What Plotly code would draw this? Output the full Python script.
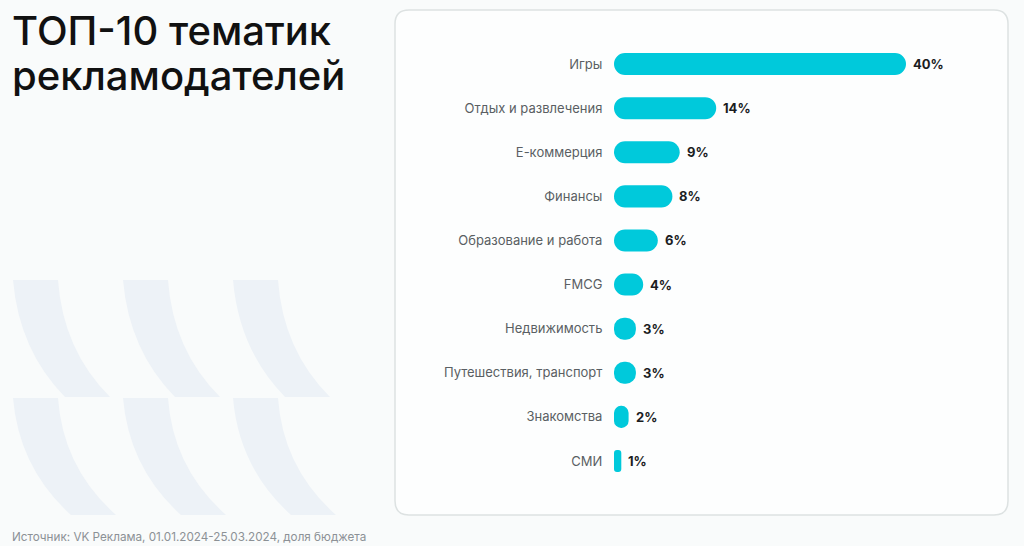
import plotly.graph_objects as go

categories = ["Игры", "Отдых и развлечения", "Е-коммерция", "Финансы", "Образование и работа",
              "FMCG", "Недвижимость", "Путешествия, транспорт", "Знакомства", "СМИ"]
values = [40, 14, 9, 8, 6, 4, 3, 3, 2, 1]
value_labels = ["40%", "14%", "9%", "8%", "6%", "4%", "3%", "3%", "2%", "1%"]

title_lines = ["ТОП-10 тематик", "рекламодателей"]
source_text = "Источник: VK Реклама, 01.01.2024-25.03.2024, доля бюджета"

W, H = 1024, 546
BAR_COLOR = "#00C9DB"

fig = go.Figure()
fig.add_trace(go.Bar(
    x=values, base=[0] * len(values), y=categories, orientation="h",
    marker=dict(color=BAR_COLOR, cornerradius="50%", line=dict(width=0)),
    width=0.5, hoverinfo="skip",
))

annotations = []
for c, v, t in zip(categories, values, value_labels):
    annotations.append(dict(x=v, y=c, xref="x", yref="y", text=t, showarrow=False,
                            xanchor="left", xshift=5,
                            font=dict(family="Inter, sans-serif", size=13, color="#1b1d1f", weight=700)))

def px(x):
    return x / W

def py(y):
    return 1 - y / H

for i, (line, yc) in enumerate(zip(title_lines, [30, 75])):
    annotations.append(dict(x=px(10), y=py(yc), xref="paper", yref="paper", text=line,
                            showarrow=False, xanchor="left", yanchor="middle", height=42,
                            font=dict(family="Inter, sans-serif", size=40, color="#111111", weight=500)))
annotations.append(dict(x=px(10), y=py(537), xref="paper", yref="paper", text=source_text,
                        showarrow=False, xanchor="left", yanchor="middle",
                        font=dict(family="Inter, sans-serif", size=11.7, color="#8c9196")))

shapes = []
# card with rounded corners
x0, y0, x1, y1, r = 395, 10, 1008, 515, 14
card = (f"M {px(x0+r)},{py(y0)} L {px(x1-r)},{py(y0)} Q {px(x1)},{py(y0)} {px(x1)},{py(y0+r)} "
        f"L {px(x1)},{py(y1-r)} Q {px(x1)},{py(y1)} {px(x1-r)},{py(y1)} "
        f"L {px(x0+r)},{py(y1)} Q {px(x0)},{py(y1)} {px(x0)},{py(y1-r)} "
        f"L {px(x0)},{py(y0+r)} Q {px(x0)},{py(y0)} {px(x0+r)},{py(y0)} Z")
shapes.append(dict(type="path", path=card, xref="paper", yref="paper", layer="below",
                   fillcolor="#fdfefe", line=dict(color="#dde2e2", width=1.5)))

# decorative ribbons
def ribbon(ox, oy, dx_bot):
    p = (f"M {px(ox)},{py(oy)} L {px(ox + 45)},{py(oy)} "
         f"Q {px(ox + 50)},{py(oy + 70)} {px(ox + 45 + dx_bot)},{py(oy + 117)} "
         f"L {px(ox + dx_bot)},{py(oy + 117)} "
         f"Q {px(ox + 6)},{py(oy + 70)} {px(ox)},{py(oy)} Z")
    return dict(type="path", path=p, xref="paper", yref="paper", layer="below",
                fillcolor="#edf2f7", line=dict(width=0))

for row, oy in enumerate([280, 398]):
    for col in range(3):
        shapes.append(ribbon(13 + col * 110, oy, 52 if row == 0 else 58))

fig.update_layout(
    width=W, height=H,
    margin=dict(l=0, r=0, t=0, b=0),
    paper_bgcolor="#f9fbfb", plot_bgcolor="rgba(0,0,0,0)",
    showlegend=False,
    xaxis=dict(domain=[px(614), px(979)], range=[0, 50], visible=False, fixedrange=True),
    yaxis=dict(domain=[py(483), py(42)], autorange="reversed", showgrid=False, zeroline=False,
               showline=False, ticks="outside", ticklen=8, tickcolor="rgba(0,0,0,0)",
               tickfont=dict(family="Inter, sans-serif", size=13, color="#5a5f63"), fixedrange=True),
    annotations=annotations,
    shapes=shapes,
)

fig.write_html("out.html")
